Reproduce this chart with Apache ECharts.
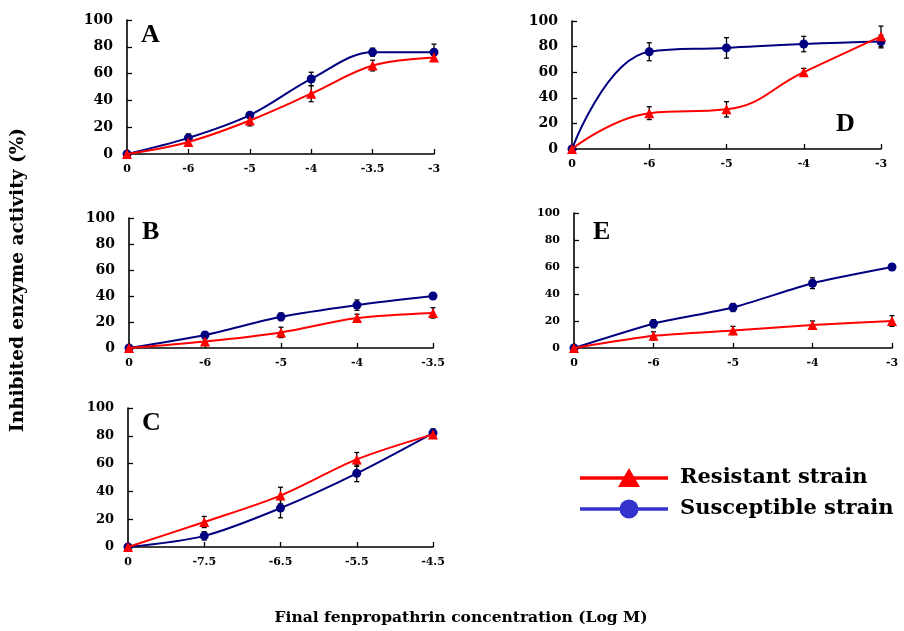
<!DOCTYPE html>
<html><head><meta charset="utf-8">
<script src="https://cdn.jsdelivr.net/npm/echarts@6/dist/echarts.min.js"></script>
<style>html,body{margin:0;padding:0;background:#fff}#c{width:904px;height:631px}</style>
</head><body><div id="c"></div>
<script>
// ---- data ----
const catsA = ['0','-6','-5','-4','-3.5','-3'];
const susA = [0, 12, 29, 56, 76, 76];
const susErrA = [0, 3, 2, 5, 3, 6];
const resA = [0, 9, 25, 45, 66, 72];
const resErrA = [0, 2, 4, 6, 4, 2];

const catsB = ['0','-6','-5','-4','-3.5'];
const susB = [0, 10, 24, 33, 40];
const susErrB = [0, 2, 3, 4, 2];
const resB = [0, 5, 12, 23, 27];
const resErrB = [0, 2, 4, 3, 4];

const catsC = ['0','-7.5','-6.5','-5.5','-4.5'];
const susC = [0, 8, 28, 53, 82];
const susErrC = [0, 3, 7, 6, 3];
const resC = [0, 18, 37, 63, 81];
const resErrC = [0, 4, 6, 5, 2];

const catsD = ['0','-6','-5','-4','-3'];
const susD = [0, 76, 79, 82, 84];
const susErrD = [0, 7, 8, 6, 5];
const resD = [0, 28, 31, 60, 88];
const resErrD = [0, 5, 6, 3, 8];

const catsE = ['0','-6','-5','-4','-3'];
const susE = [0, 18, 30, 48, 60];
const susErrE = [0, 3, 3, 4, 2];
const resE = [0, 9, 13, 17, 20];
const resErrE = [0, 3, 3, 3, 4];

const yTicks = [0, 20, 40, 60, 80, 100];
const seriesNames = ['Resistant strain', 'Susceptible strain'];
const panelLetters = ['A','B','C','D','E'];
const yTitle = 'Inhibited enzyme activity (%)';
const xTitle = 'Final fenpropathrin concentration (Log M)';

// ---- layout ----
const FONT = '"Liberation Serif", "Times New Roman", serif';
const WFONT = '"DejaVu Serif", serif';
const RED = '#ff0000', NAVY = '#000080';
const panels = [
  {cats: catsA, sus: susA, susErr: susErrA, res: resA, resErr: resErrA, grid: {left: 127, top: 20, width: 307, height: 134}, ySize: 14, smooth: 0.35},
  {cats: catsB, sus: susB, susErr: susErrB, res: resB, resErr: resErrB, grid: {left: 129, top: 218, width: 304, height: 130}, ySize: 14, smooth: 0.3},
  {cats: catsC, sus: susC, susErr: susErrC, res: resC, resErr: resErrC, grid: {left: 128, top: 408, width: 305, height: 139}, ySize: 13, smooth: 0.3},
  {cats: catsD, sus: susD, susErr: susErrD, res: resD, resErr: resErrD, grid: {left: 572, top: 21, width: 309, height: 128}, ySize: 14, smooth: 0.45},
  {cats: catsE, sus: susE, susErr: susErrE, res: resE, resErr: resErrE, grid: {left: 574, top: 213, width: 318, height: 135}, ySize: 11, smooth: 0.2}
];

const grid = [], xAxis = [], yAxis = [], series = [];
function errSeries(i, vals, errs) {
  return {
    type: 'custom', xAxisIndex: i, yAxisIndex: i, z: 3, silent: true,
    data: vals.map((v, k) => [k, v - errs[k], v + errs[k]]),
    renderItem: function (params, api) {
      const lo = api.coord([api.value(0), api.value(1)]);
      const hi = api.coord([api.value(0), api.value(2)]);
      if (Math.abs(hi[1] - lo[1]) < 0.5) return null;
      const w = 2.5;
      const st = {stroke: '#000', lineWidth: 1.3};
      return {type: 'group', children: [
        {type: 'line', shape: {x1: lo[0], y1: lo[1], x2: hi[0], y2: hi[1]}, style: st},
        {type: 'line', shape: {x1: hi[0]-w, y1: hi[1], x2: hi[0]+w, y2: hi[1]}, style: st},
        {type: 'line', shape: {x1: lo[0]-w, y1: lo[1], x2: lo[0]+w, y2: lo[1]}, style: st}
      ]};
    }
  };
}
panels.forEach((p, i) => {
  grid.push(Object.assign({containLabel: false}, p.grid));
  xAxis.push({
    type: 'category', gridIndex: i, data: p.cats, boundaryGap: false,
    axisLine: {lineStyle: {color: '#000', width: 1.6}},
    axisTick: {inside: true, length: 5, lineStyle: {color: '#000', width: 1.3}, alignWithLabel: true},
    axisLabel: {color: '#000', fontFamily: WFONT, fontWeight: 'bold', fontSize: 11, margin: 10},
    splitLine: {show: false}
  });
  yAxis.push({
    type: 'value', gridIndex: i, min: 0, max: 100, interval: 20,
    axisLine: {show: true, lineStyle: {color: '#000', width: 1.6}},
    axisTick: {show: true, inside: true, length: 5, lineStyle: {color: '#000', width: 1.3}},
    axisLabel: {color: '#000', fontFamily: WFONT, fontWeight: 'bold', fontSize: p.ySize, margin: 14},
    splitLine: {show: false}
  });
  series.push(errSeries(i, p.sus, p.susErr));
  series.push(errSeries(i, p.res, p.resErr));
  series.push({
    name: seriesNames[1], type: 'line', xAxisIndex: i, yAxisIndex: i, data: p.sus, smooth: p.smooth,
    symbol: 'circle', symbolSize: 9, z: 4,
    lineStyle: {color: NAVY, width: 2}, itemStyle: {color: NAVY}
  });
  series.push({
    name: seriesNames[0], type: 'line', xAxisIndex: i, yAxisIndex: i, data: p.res, smooth: p.smooth,
    symbol: 'triangle', symbolSize: 10, z: 5,
    lineStyle: {color: RED, width: 2}, itemStyle: {color: RED}
  });
});

const letterStyle = {fill: '#000', font: 'bold 26px ' + FONT};
const graphic = [
  {type: 'text', left: 141, top: 22, style: Object.assign({text: panelLetters[0]}, letterStyle)},
  {type: 'text', left: 142, top: 219, style: Object.assign({text: panelLetters[1]}, letterStyle)},
  {type: 'text', left: 142, top: 410, style: Object.assign({text: panelLetters[2]}, letterStyle)},
  {type: 'text', left: 836, top: 111, style: Object.assign({text: panelLetters[3]}, letterStyle)},
  {type: 'text', left: 593, top: 219, style: Object.assign({text: panelLetters[4]}, letterStyle)},
  // y title
  {type: 'text', x: 18, y: 280, rotation: Math.PI / 2, style: {text: yTitle, fill: '#000', font: 'bold 18.5px ' + WFONT, textAlign: 'center', textVerticalAlign: 'middle'}},
  // x title
  {type: 'text', x: 461, y: 618, style: {text: xTitle, fill: '#000', font: 'bold 15.5px ' + WFONT, textAlign: 'center', textVerticalAlign: 'middle'}},
  // legend
  {type: 'line', shape: {x1: 580, y1: 478, x2: 668, y2: 478}, style: {stroke: RED, lineWidth: 3.5}},
  {type: 'polygon', shape: {points: [[629, 468], [640, 487], [618, 487]]}, style: {fill: RED}},
  {type: 'text', x: 680, y: 478, style: {text: seriesNames[0], fill: '#000', font: 'bold 21px ' + WFONT, textVerticalAlign: 'middle'}},
  {type: 'line', shape: {x1: 580, y1: 509, x2: 668, y2: 509}, style: {stroke: '#3333cc', lineWidth: 3.5}},
  {type: 'circle', shape: {cx: 629, cy: 509, r: 9.5}, style: {fill: '#3333cc'}},
  {type: 'text', x: 680, y: 509, style: {text: seriesNames[1], fill: '#000', font: 'bold 21px ' + WFONT, textVerticalAlign: 'middle'}}
];

const chart = echarts.init(document.getElementById('c'), null, {renderer: 'canvas'});
chart.setOption({animation: false, backgroundColor: '#fff', grid, xAxis, yAxis, series, graphic});
</script></body></html>
